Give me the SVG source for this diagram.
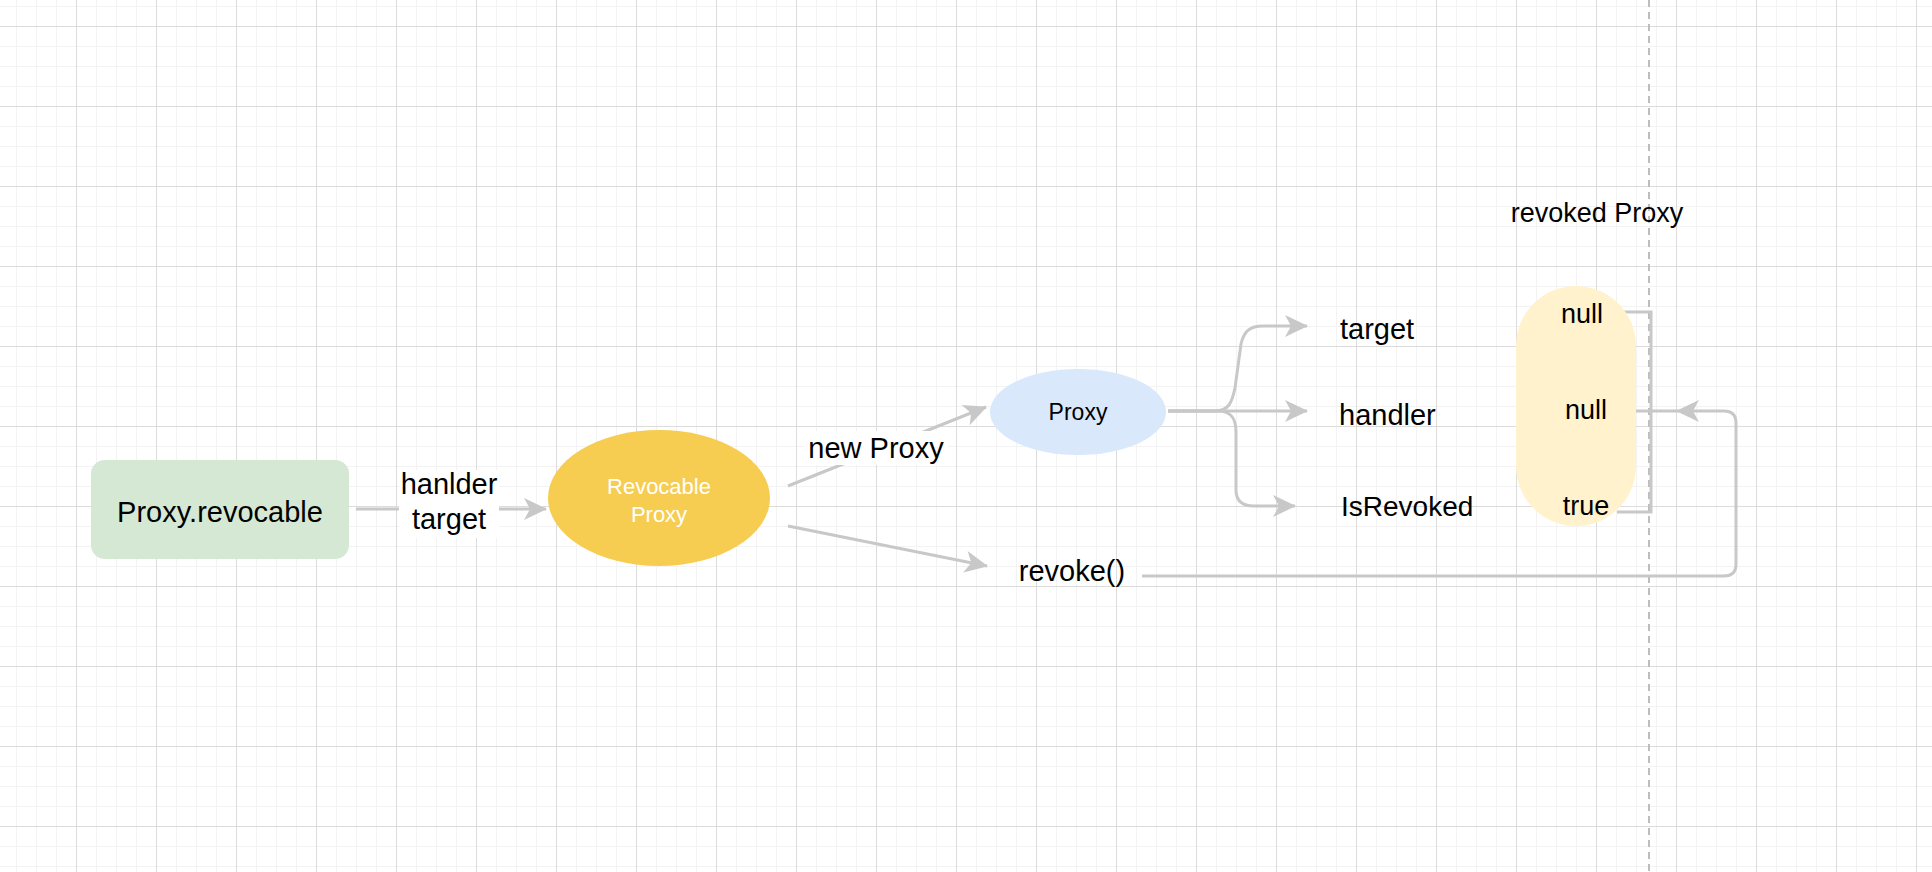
<svg xmlns="http://www.w3.org/2000/svg" width="1932" height="872" viewBox="0 0 1932 872">
<style>
.lbl{font-family:"Liberation Sans",Arial,sans-serif;fill:#000;}
.edge{fill:none;stroke:#c8c8c8;stroke-width:3;}
</style>
<defs>
<pattern id="minor" x="16" y="6" width="20" height="20" patternUnits="userSpaceOnUse">
<path d="M0.5,0 V20 M0,0.5 H20" stroke="#f3f3f3" stroke-width="1" fill="none"/>
</pattern>
<pattern id="major" x="76" y="26" width="80" height="80" patternUnits="userSpaceOnUse">
<path d="M0.5,0 V80 M0,0.5 H80" stroke="#dcdcdc" stroke-width="1" fill="none"/>
</pattern>
<marker id="arr" viewBox="0 0 24 24" refX="23" refY="12" markerWidth="24" markerHeight="24" markerUnits="userSpaceOnUse" orient="auto">
<path d="M24,12 L1,1 L7,12 L1,23 Z" fill="#c8c8c8"/>
</marker>
</defs>
<rect width="1932" height="872" fill="#ffffff"/>
<rect width="1932" height="872" fill="url(#minor)"/>
<rect width="1932" height="872" fill="url(#major)"/>
<line x1="1649" y1="0" x2="1649" y2="872" stroke="#bdbdbd" stroke-width="2" stroke-dasharray="7 5"/>

<g id="connectors">
<line class="edge" x1="356" y1="509" x2="546" y2="509" marker-end="url(#arr)"/>
<line class="edge" x1="788" y1="486" x2="986" y2="407" marker-end="url(#arr)"/>
<line class="edge" x1="788" y1="526" x2="987" y2="566" marker-end="url(#arr)"/>
<path class="edge" d="M1168,411 L1215,411 C1229,411 1232,402 1235,388 L1241,344 C1244,331 1250,326 1263,326 L1307,326" marker-end="url(#arr)"/>
<path class="edge" d="M1168,411 L1307,411" marker-end="url(#arr)"/>
<path class="edge" d="M1168,411 L1218,411 C1231,411 1236,418 1236,432 L1236,490 C1236,501 1242,506 1254,506 L1295,506" marker-end="url(#arr)"/>
<path class="edge" d="M1142,576 L1724,576 Q1736,576 1736,564 L1736,423 Q1736,411 1724,411 L1677,411" marker-end="url(#arr)"/>
<line class="edge" x1="1677" y1="411" x2="1620" y2="411"/>
<path class="edge" d="M1617,312 L1651,312 L1651,512 L1617,512"/>
<rect x="399" y="470" width="100" height="68" fill="#ffffff"/>
<text class="lbl" x="449" y="494" font-size="29" text-anchor="middle">hanlder</text>
<text class="lbl" x="449" y="529" font-size="29" text-anchor="middle">target</text>
<rect x="805" y="431" width="143" height="34" fill="#ffffff"/>
<text class="lbl" x="876" y="458" font-size="29" text-anchor="middle">new Proxy</text>
</g>

<g id="proxy-revocable">
<rect x="91" y="460" width="258" height="99" rx="14" fill="#d5e8d4"/>
<text class="lbl" x="220" y="522" font-size="29" text-anchor="middle">Proxy.revocable</text>
</g>

<g id="revocable-proxy">
<ellipse cx="659" cy="498" rx="111" ry="68" fill="#f6cd50"/>
<text class="lbl" x="659" y="494" font-size="22" text-anchor="middle" style="fill:#ffffff">Revocable</text>
<text class="lbl" x="659" y="522" font-size="22" text-anchor="middle" style="fill:#ffffff">Proxy</text>
</g>

<g id="proxy">
<ellipse cx="1078" cy="412" rx="88" ry="43" fill="#dae8fc"/>
<text class="lbl" x="1078" y="420" font-size="23" text-anchor="middle">Proxy</text>
</g>

<g id="revoke">
<text class="lbl" x="1072" y="581" font-size="29" text-anchor="middle">revoke()</text>
</g>

<g id="target">
<text class="lbl" x="1340" y="339" font-size="29">target</text>
</g>
<g id="handler">
<text class="lbl" x="1339" y="425" font-size="29">handler</text>
</g>
<g id="isrevoked">
<text class="lbl" x="1341" y="516" font-size="28">IsRevoked</text>
</g>

<g id="revoked-proxy-title">
<text class="lbl" x="1597" y="222" font-size="27" text-anchor="middle">revoked Proxy</text>
</g>

<g id="revoked-proxy">
<rect x="1516" y="286" width="120" height="240" rx="60" fill="#fff2cc"/>
<text class="lbl" x="1582" y="323" font-size="27" text-anchor="middle">null</text>
<text class="lbl" x="1586" y="419" font-size="27" text-anchor="middle">null</text>
<text class="lbl" x="1586" y="515" font-size="27" text-anchor="middle">true</text>
</g>
</svg>
